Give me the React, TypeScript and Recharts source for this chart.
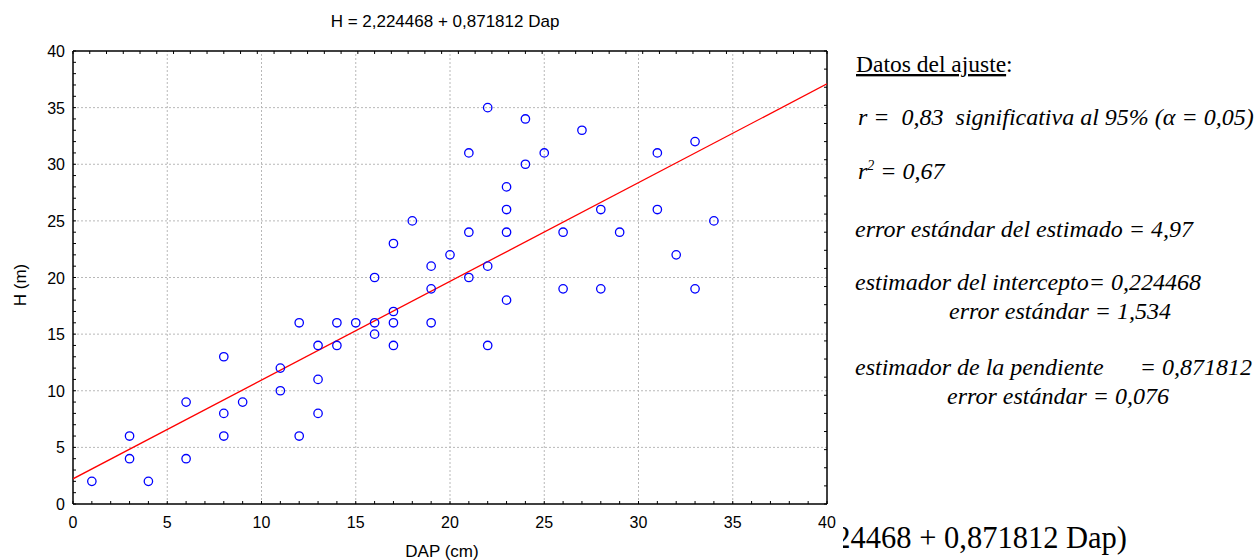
import React from "react";
import { ScatterChart, Scatter, XAxis, YAxis, ReferenceLine } from "recharts";

// observaciones: DAP (cm) y altura H (m)
const dap = [1, 3, 3, 4, 6, 6, 8, 8, 8, 9, 11, 11, 12, 12, 13, 13, 13, 14, 14, 15, 16, 16, 16, 17, 17, 17, 17, 18, 19, 19, 19, 20, 21, 21, 21, 22, 22, 22, 23, 23, 23, 23, 24, 24, 25, 26, 26, 27, 28, 28, 29, 31, 31, 32, 33, 33, 34];
const alturas = [2, 6, 4, 2, 9, 4, 13, 8, 6, 9, 12, 10, 16, 6, 14, 11, 8, 16, 14, 16, 20, 16, 15, 23, 17, 16, 14, 25, 21, 19, 16, 22, 31, 24, 20, 35, 21, 14, 28, 26, 24, 18, 34, 30, 31, 24, 19, 33, 26, 19, 24, 31, 26, 22, 32, 19, 25];

// recta ajustada H = 2,224468 + 0,871812 Dap, extremos en 0 y 40
const rectaDap = [0, 40];
const rectaH = [2.224468, 37.096948];

const etiquetasX = [0, 5, 10, 15, 20, 25, 30, 35, 40];
const etiquetasY = [0, 5, 10, 15, 20, 25, 30, 35, 40];
const rejilla = [5, 10, 15, 20, 25, 30, 35];

// marcas menores del marco
const marcasX = Array.from({ length: 41 }, (_, i) => i);
const marcasY = Array.from({ length: 41 }, (_, i) => i);
const marcasArriba = Array.from({ length: 46 }, (_, i) => (i * 40) / 45);
const marcasDerecha = Array.from({ length: 26 }, (_, i) => (i * 8) / 5);

const puntos = dap.map((d, i) => ({ dap: d, h: alturas[i] }));
const recta = rectaDap.map((d, i) => ({ dap: d, h: rectaH[i] }));

const SANS = "'Liberation Sans', Arial, sans-serif";
const SERIF = "'Liberation Serif', 'Times New Roman', serif";
const NEGRO = "#000";
const marco = { stroke: NEGRO, strokeWidth: 1.5 };

function TickAbajo(props: any) {
  const { x, y, payload } = props;
  return (
    <g>
      <line x1={x} y1={y} x2={x} y2={y - 3} stroke={NEGRO} />
      {etiquetasX.includes(payload.value) && (
        <text x={x} y={y + 24} textAnchor="middle" fontSize={16} fontFamily={SANS} fill={NEGRO}>
          {payload.value}
        </text>
      )}
    </g>
  );
}

function TickIzquierda(props: any) {
  const { x, y, payload } = props;
  return (
    <g>
      <line x1={x} y1={y} x2={x + 3} y2={y} stroke={NEGRO} />
      {etiquetasY.includes(payload.value) && (
        <text x={x - 8} y={y + 6} textAnchor="end" fontSize={16} fontFamily={SANS} fill={NEGRO}>
          {payload.value}
        </text>
      )}
    </g>
  );
}

function TickArriba(props: any) {
  const { x, y } = props;
  return <line x1={x} y1={y} x2={x} y2={y + 3} stroke={NEGRO} />;
}

function TickDerecha(props: any) {
  const { x, y } = props;
  return <line x1={x} y1={y} x2={x - 3} y2={y} stroke={NEGRO} />;
}

function Circulo(props: any) {
  return <circle cx={props.cx} cy={props.cy} r={4.2} fill="none" stroke="#0000ff" strokeWidth={1.3} />;
}

function Vacio() {
  return <g />;
}

export default function App() {
  return (
    <div style={{ position: "absolute", left: 0, top: 0, width: 1260, height: 560, background: "#fff" }}>
      <div style={{ position: "absolute", left: 0, top: 0 }}>
        <ScatterChart width={840} height={560} margin={{ top: 50, right: 12, bottom: 16, left: 23 }}>
          <XAxis
            xAxisId="b"
            type="number"
            dataKey="dap"
            domain={[0, 40]}
            allowDataOverflow
            ticks={marcasX}
            interval={0}
            tickSize={0}
            tickMargin={0}
            tickLine={false}
            axisLine={marco}
            tick={<TickAbajo />}
            height={40}
          />
          <XAxis
            xAxisId="t"
            orientation="top"
            type="number"
            dataKey="dap"
            domain={[0, 40]}
            allowDataOverflow
            ticks={marcasArriba}
            interval={0}
            tickSize={0}
            tickMargin={0}
            tickLine={false}
            axisLine={marco}
            tick={<TickArriba />}
            height={1}
          />
          <YAxis
            yAxisId="l"
            type="number"
            dataKey="h"
            domain={[0, 40]}
            allowDataOverflow
            ticks={marcasY}
            interval={0}
            tickSize={0}
            tickMargin={0}
            tickLine={false}
            axisLine={marco}
            tick={<TickIzquierda />}
            width={50}
          />
          <YAxis
            yAxisId="r"
            orientation="right"
            type="number"
            dataKey="h"
            domain={[0, 40]}
            allowDataOverflow
            ticks={marcasDerecha}
            interval={0}
            tickSize={0}
            tickMargin={0}
            tickLine={false}
            axisLine={marco}
            tick={<TickDerecha />}
            width={1}
          />
          {rejilla.map((v) => (
            <ReferenceLine key={"gx" + v} xAxisId="b" yAxisId="l" x={v} stroke="#b8b8b8" strokeDasharray="2 2" />
          ))}
          {rejilla.map((v) => (
            <ReferenceLine key={"gy" + v} xAxisId="b" yAxisId="l" y={v} stroke="#b8b8b8" strokeDasharray="2 2" />
          ))}
          <Scatter
            xAxisId="t"
            yAxisId="r"
            data={recta}
            line={{ stroke: "#ff0000", strokeWidth: 1.3 }}
            shape={<Vacio />}
            legendType="none"
            isAnimationActive={false}
          />
          <Scatter xAxisId="b" yAxisId="l" data={puntos} shape={<Circulo />} isAnimationActive={false} />
        </ScatterChart>
      </div>
      <svg width={1260} height={560} style={{ position: "absolute", left: 0, top: 0, pointerEvents: "none" }}>
        <defs>
          <clipPath id="recorte">
            <rect x={843} y={500} width={417} height={60} />
          </clipPath>
        </defs>
        <g fontFamily={SANS} fontSize={17} fill={NEGRO}>
          <text x={445} y={27} textAnchor="middle">H = 2,224468 + 0,871812 Dap</text>
          <text x={442} y={557} textAnchor="middle">DAP (cm)</text>
          <text transform="translate(26,285) rotate(-90)" textAnchor="middle">H (m)</text>
        </g>
        <g fontFamily={SERIF} fill={NEGRO}>
          <text x={856} y={72} fontSize={23.5}>
            <tspan style={{ textDecoration: "underline" }}>Datos del ajuste</tspan>
            <tspan>:</tspan>
          </text>
          <g fontStyle="italic" fontSize={24}>
            <text x={858} y={125} style={{ whiteSpace: "pre" }}>r =  0,83  significativa al 95% (α = 0,05)</text>
            <text x={858} y={179}>
              <tspan>r</tspan>
              <tspan fontSize={14} dy={-9}>2</tspan>
              <tspan dy={9}> = 0,67</tspan>
            </text>
            <text x={855} y={237}>error estándar del estimado = 4,97</text>
            <text x={855} y={290}>estimador del intercepto= 0,224468</text>
            <text x={949} y={319}>error estándar = 1,534</text>
            <text x={855} y={375}>estimador de la pendiente</text>
            <text x={1252} y={375} textAnchor="end">= 0,871812</text>
            <text x={947} y={404}>error estándar = 0,076</text>
          </g>
          <g clipPath="url(#recorte)">
            <text x={1127} y={548} textAnchor="end" fontSize={30.5}>24468 + 0,871812 Dap)</text>
          </g>
        </g>
      </svg>
    </div>
  );
}
